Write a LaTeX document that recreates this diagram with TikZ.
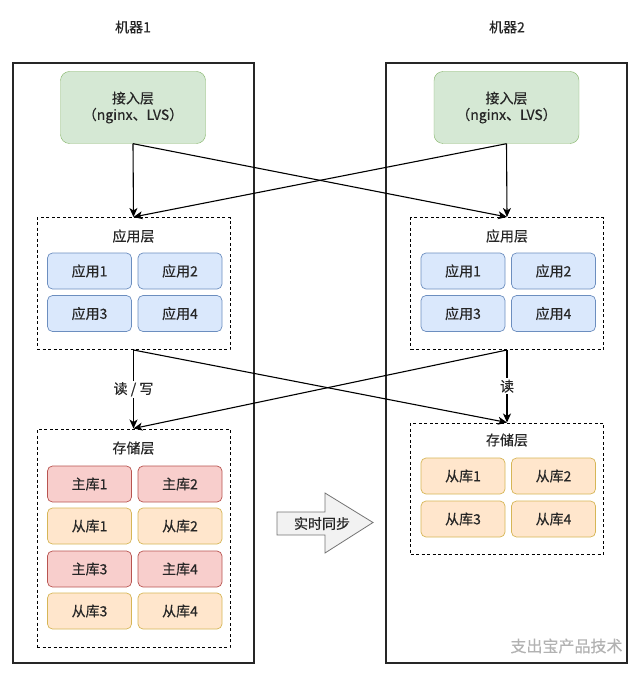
\documentclass[tikz,border=0pt]{standalone}
\usepackage{fontspec}
\setmainfont{Noto Sans CJK SC}[FakeBold=0.35]
\usetikzlibrary{arrows.meta, positioning}
\definecolor{accfill}{HTML}{D5E8D4}
\definecolor{accline}{HTML}{82B366}
\definecolor{appfill}{HTML}{DAE8FC}
\definecolor{appline}{HTML}{6C8EBF}
\definecolor{mainfill}{HTML}{F8CECC}
\definecolor{mainline}{HTML}{B85450}
\definecolor{slavefill}{HTML}{FFE6CC}
\definecolor{slaveline}{HTML}{D6B656}
\definecolor{syncfill}{HTML}{F2F2F2}

\begin{document}
\begin{tikzpicture}[x=1pt, y=-1pt,
	txt/.style={font=\fontsize{14}{16.5}\selectfont, text=black!85},
	machine/.style={draw=black!85, line width=1.3pt, inner sep=0pt},
	layer/.style={draw, dash pattern=on 3pt off 2.5pt, line width=1pt, inner sep=0pt, minimum width=193pt},
	access/.style={txt, draw=accline, fill=accfill, rounded corners=9pt, inner sep=0pt, minimum width=145pt, minimum height=72pt, align=center},
	unit/.style={txt, rounded corners=5pt, inner sep=0pt, minimum width=84pt, minimum height=36pt, line width=0.7pt},
	app/.style={unit, draw=appline, fill=appfill},
	master/.style={unit, draw=mainline, fill=mainfill},
	slave/.style={unit, draw=slaveline, fill=slavefill},
	flow/.style={line width=1.1pt, -{Stealth[length=9pt, width=8pt, inset=2.5pt]}}]
	\useasboundingbox (0,0) rectangle (640,676);

	% machines
	\node [txt] (t1) at (133,27) {机器1};
	\node [txt] (t2) at (507,27) {机器2};
	\node [machine, minimum width=241pt, minimum height=600pt] (m1) at (133.5,363) {};
	\node [machine, minimum width=241pt, minimum height=600pt] (m2) at (506.5,363) {};

	% access layer
	\node [access] (acc1) at (133,107.5) {接入层\\（nginx、LVS）};
	\node [access] (acc2) at (506.5,107.5) {接入层\\（nginx、LVS）};

	% application layer
	\node [layer, minimum height=132pt] (appl1) at (133.5,283.5) {};
	\node [layer, minimum height=132pt] (appl2) at (507,283.5) {};
	\node [txt] at (133.5,236) {应用层};
	\node [txt] at (507,236) {应用层};

	\node [app] (a11) at (89.5,271) {应用1};
	\node [app] (a12) at (180,271) {应用2};
	\node [app] (a13) at (89.5,313.5) {应用3};
	\node [app] (a14) at (180,313.5) {应用4};
	\node [app] (a21) at (463,271) {应用1};
	\node [app] (a22) at (553.5,271) {应用2};
	\node [app] (a23) at (463,313.5) {应用3};
	\node [app] (a24) at (553.5,313.5) {应用4};

	% storage layer
	\node [layer, minimum height=218pt] (st1) at (133.5,538) {};
	\node [layer, minimum height=131pt] (st2) at (507,488.5) {};
	\node [txt] at (133.5,448) {存储层};
	\node [txt] at (507,440) {存储层};

	\node [master] (d11) at (89.5,484) {主库1};
	\node [master] (d12) at (180,484) {主库2};
	\node [slave] (d13) at (89.5,526) {从库1};
	\node [slave] (d14) at (180,526) {从库2};
	\node [master] (d15) at (89.5,569) {主库3};
	\node [master] (d16) at (180,569) {主库4};
	\node [slave] (d17) at (89.5,611) {从库3};
	\node [slave] (d18) at (180,611) {从库4};

	\node [slave] (d21) at (463,476) {从库1};
	\node [slave] (d22) at (553.5,476) {从库2};
	\node [slave] (d23) at (463,519) {从库3};
	\node [slave] (d24) at (553.5,519) {从库4};

	% connectors
	\draw [flow] (acc1.south) -- (appl1.north);
	\draw [flow] (acc2.south) -- (appl2.north);
	\draw [flow] (acc1.south) -- (appl2.north);
	\draw [flow] (acc2.south) -- (appl1.north);

	\draw [flow] (appl1.south) -- node [txt, fill=white, inner sep=1.5pt] {读 / 写} (st1.north);
	\draw [flow] (appl2.south) -- node [txt, fill=white, inner sep=1.5pt] {读} (st2.north);
	\draw [flow] (appl1.south) -- (st2.north);
	\draw [flow] (appl2.south) -- (st1.north);

	% sync arrow
	\draw [black!55, line width=0.8pt, top color=syncfill, bottom color=white!95!black]
		(277,512) -- (325,512) -- (325,493) -- (373,522.5) -- (325,553) -- (325,535) -- (277,535) -- cycle;
	\node [txt] (sync) at (322,523.5) {实时同步};

	% watermark
	\node [font=\fontsize{16}{18}\selectfont, text=black!30, anchor=east] (wm) at (626,646) {支出宝产品技术};
\end{tikzpicture}
\end{document}
